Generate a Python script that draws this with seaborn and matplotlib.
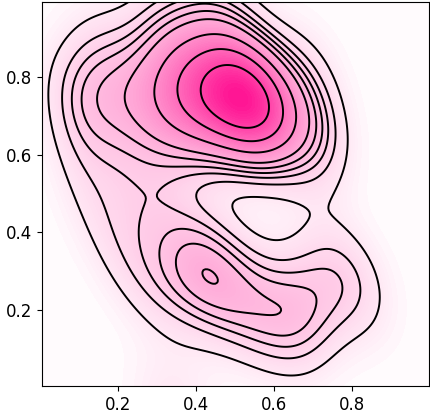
import matplotlib
matplotlib.use("Agg")
import matplotlib.pyplot as plt
from matplotlib.colors import LinearSegmentedColormap
import seaborn as sns
import numpy as np

# sample points
core_x = [0.53, 0.53, 0.53, 0.49, 0.57, 0.45, 0.61, 0.51, 0.55, 0.47, 0.59, 0.50, 0.56, 0.43, 0.63, 0.52, 0.54, 0.47, 0.60, 0.53]
core_y = [0.74, 0.74, 0.74, 0.755, 0.725, 0.77, 0.71, 0.765, 0.715, 0.74, 0.74, 0.72, 0.76, 0.745, 0.70, 0.79, 0.69, 0.79, 0.68, 0.74]
ramp_x = [0.44, 0.42, 0.40, 0.39, 0.37, 0.36, 0.34, 0.33, 0.30, 0.28, 0.26, 0.23, 0.18, 0.38, 0.30]
ramp_y = [0.70, 0.78, 0.73, 0.67, 0.80, 0.72, 0.66, 0.77, 0.71, 0.80, 0.66, 0.74, 0.70, 0.86, 0.88]
left_x = [0.12, 0.08, 0.15, 0.10, 0.17]
left_y = [0.72, 0.78, 0.82, 0.65, 0.88]
top_x = [0.42, 0.50, 0.33, 0.45]
top_y = [0.93, 0.92, 0.95, 0.99]
bridge_x = [0.25, 0.30, 0.12, 0.18]
bridge_y = [0.50, 0.46, 0.52, 0.40]
lower_x = [0.42, 0.50, 0.38, 0.36, 0.46, 0.55, 0.30, 0.24, 0.60, 0.45, 0.41]
lower_y = [0.32, 0.28, 0.36, 0.26, 0.22, 0.24, 0.25, 0.31, 0.19, 0.29, 0.31]
tail_x = [0.66, 0.72, 0.79, 0.68, 0.84, 0.75, 0.55, 0.65, 0.30, 0.38]
tail_y = [0.22, 0.26, 0.28, 0.18, 0.22, 0.33, 0.16, 0.14, -0.05, -0.05]
edge_x = [0.70, 0.68, 0.70, 0.72]
edge_y = [0.60, 0.84, 0.72, 0.64]

x = np.array(core_x + ramp_x + left_x + top_x + bridge_x + lower_x + tail_x + edge_x)
y = np.array(core_y + ramp_y + left_y + top_y + bridge_y + lower_y + tail_y + edge_y)

x_range = (0.004, 0.997)
y_range = (0.004, 0.995)

pink = LinearSegmentedColormap.from_list("pink", ["#ffffff", "#ff1493"])

fig = plt.figure(figsize=(4.31, 4.12), dpi=100)
ax = fig.add_axes([42 / 431, 26 / 412, 387 / 431, 384.5 / 412])

sns.kdeplot(x=x, y=y, ax=ax, fill=True, levels=100, thresh=0, cut=5,
            clip=(x_range, y_range), bw_adjust=0.85, cmap=pink)
sns.kdeplot(x=x, y=y, ax=ax, levels=10, thresh=0.08, cut=5,
            clip=(x_range, y_range), bw_adjust=0.85, colors="black",
            linewidths=1.4)

ax.set_xlim(x_range)
ax.set_ylim(y_range)
ax.set_xticks([0.2, 0.4, 0.6, 0.8])
ax.set_yticks([0.2, 0.4, 0.6, 0.8])
ax.tick_params(labelsize=12)
ax.set_xlabel("")
ax.set_ylabel("")

fig.savefig("out.png", dpi=100)
